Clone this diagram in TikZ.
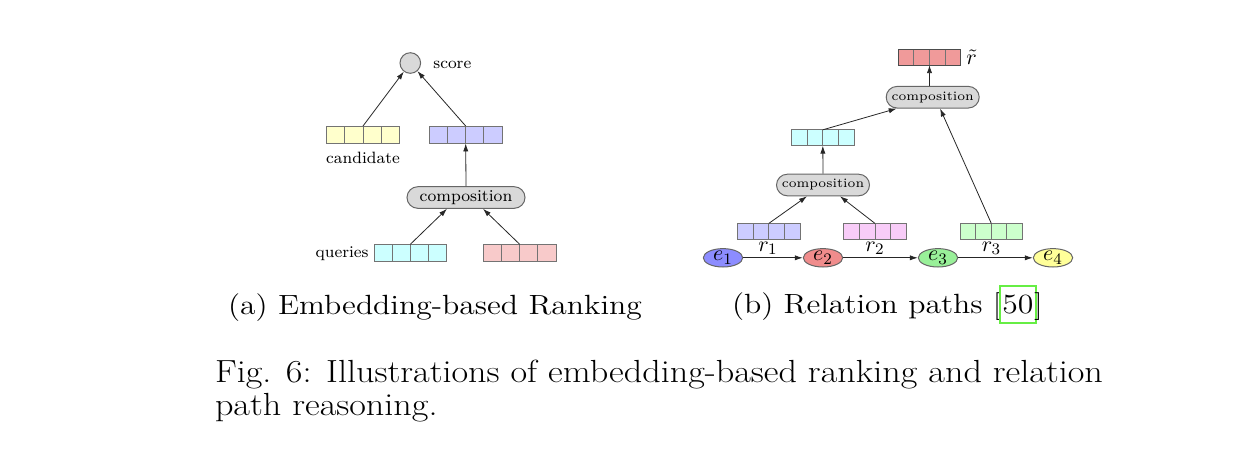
\documentclass[tikz,border=0pt]{standalone}
\usetikzlibrary{arrows.meta,calc,shapes.geometric}
\definecolor{cyel}{HTML}{FFFFCC}
\definecolor{cblue}{HTML}{CCCCFF}
\definecolor{ccyan}{HTML}{CCFFFF}
\definecolor{cpinkL}{HTML}{F8CACA}
\definecolor{crt}{HTML}{F09A9A}
\definecolor{cpinkB}{HTML}{F8CCF8}
\definecolor{cgreenC}{HTML}{CCFFCC}
\definecolor{ceA}{HTML}{8C8CFF}
\definecolor{ceB}{HTML}{F08C8C}
\definecolor{ceC}{HTML}{99F099}
\definecolor{ceD}{HTML}{FFFF99}
\definecolor{compgray}{HTML}{D9D9D9}
\definecolor{refgreen}{HTML}{66EE44}
\newcommand\mycapfont{\fontsize{16}{18}\selectfont}
\newcommand\mysubfont{\fontsize{13.9}{16}\selectfont}
\tikzset{
 arr/.style={-{Latex[length=4pt,width=2.6pt]}, line width=0.4pt, black!85},
 vec/.style={draw=black!55, line width=0.5pt, inner sep=0, outer sep=0,
   path picture={\foreach \i in {1,2,3}{\draw[black!55, line width=0.5pt]
     ($(path picture bounding box.south west)!\i/4!(path picture bounding box.south east)$) --
     ($(path picture bounding box.north west)!\i/4!(path picture bounding box.north east)$);}}},
 lvec/.style={vec, minimum width=36.3pt, minimum height=8.7pt},
 rvec/.style={vec, minimum width=31.2pt, minimum height=7.9pt},
 compL/.style={draw=black!60, fill=compgray, line width=0.5pt, rounded corners=5.4pt, minimum width=59pt, minimum height=10.8pt, inner sep=0, font=\fontsize{8.3}{10}\selectfont},
 compR/.style={compL, minimum width=46.5pt, font=\fontsize{6.4}{8}\selectfont},
 ent/.style={ellipse, draw=black!60, line width=0.5pt, minimum width=19.7pt, minimum height=9.2pt, inner sep=0, font=\fontsize{11}{12}\selectfont},
 lbl/.style={inner sep=0, font=\fontsize{8.2}{10}\selectfont},
 rlab/.style={inner sep=0, font=\fontsize{11}{12}\selectfont},
 captxt/.style={anchor=base west, inner sep=0, outer sep=0},
}
\begin{document}
\begin{tikzpicture}[x=0.5pt,y=-0.5pt]
\useasboundingbox (0,0) rectangle (1238,468);
% ---------- (a) ----------
\node[circle, draw=black!60, fill=compgray, line width=0.5pt, minimum size=10.3pt, inner sep=0] (score) at (410.3,63) {};
\node[lbl, anchor=west] (lscore) at (433,64.5) {score};
\node[lvec, fill=cyel] (cand) at (363,134.7) {};
\node[lbl] (lcand) at (363,158.3) {candidate};
\node[lvec, fill=cblue] (bvec) at (465.7,134.7) {};
\node[compL] (comp) at (466,197.5) {composition};
\node[lvec, fill=ccyan] (qvec) at (410.3,253) {};
\node[lbl, anchor=east] (lq) at (369,254) {queries};
\node[lvec, fill=cpinkL] (pvec) at (519.7,253) {};
\draw[arr] (cand.north) -- (score);
\draw[arr] (bvec.north) -- (score);
\draw[arr] (comp.north) -- (bvec.south);
\draw[arr] (qvec.north) -- ([xshift=-9.5pt]comp.south);
\draw[arr] (pvec.north) -- ([xshift=8.5pt]comp.south);
% ---------- (b) ----------
\node[rvec, fill=crt, draw=black!70] (rt) at (929.5,57.2) {};
\node[rlab, anchor=west] (lrt) at (966,57) {$\tilde{r}$};
\node[compR] (comptop) at (932.7,97.2) {composition};
\node[rvec, fill=ccyan] (cy) at (822.8,137.7) {};
\node[compR] (compbot) at (823,185) {composition};
\node[rvec, fill=cblue] (ra) at (768.8,231.3) {};
\node[rvec, fill=cpinkB] (rb) at (875,231.3) {};
\node[rvec, fill=cgreenC] (rc) at (991.3,231.3) {};
\node[rlab] (lra) at (768,248.3) {$r_1$};
\node[rlab] (lrb) at (875,248.3) {$r_2$};
\node[rlab] (lrc) at (991.5,248.3) {$r_3$};
\node[ent, fill=ceA] (ea) at (723,257.8) {$e_1$};
\node[ent, fill=ceB] (eb) at (823,257.8) {$e_2$};
\node[ent, fill=ceC] (ec) at (938,257.8) {$e_3$};
\node[ent, fill=ceD] (ed) at (1053,257.8) {$e_4$};
\draw[arr] (ea) -- (eb);
\draw[arr] (eb) -- (ec);
\draw[arr] (ec) -- (ed);
\draw[arr] (ra.north) -- ([xshift=-8pt]compbot.south);
\draw[arr] (rb.north) -- ([xshift=8.5pt]compbot.south);
\draw[arr] (compbot.north) -- (cy.south);
\draw[arr] (cy.north) -- ([xshift=-18pt]comptop.south);
\draw[arr] (rc.north) -- ([xshift=3.7pt]comptop.south);
\draw[arr] (comptop.north -| rt.south) -- (rt.south);
% ---------- captions ----------
\node[captxt, font=\mysubfont] (capa) at (228,314) {\scalebox{1.14}[1]{(a) Embedding-based Ranking}};
\node[captxt, font=\mysubfont] (capb) at (732,313.5) {\scalebox{1.14}[1]{(b) Relation paths [}};
\node[anchor=base west, font=\mysubfont, draw=refgreen, line width=1pt, inner xsep=1.2pt, inner ysep=4.7pt, outer sep=0] (cite) at ([xshift=-0.8pt]capb.base east) {\scalebox{1.14}[1]{50}};
\node[captxt, font=\mysubfont] (capc) at ([xshift=-0.8pt]cite.base east) {\scalebox{1.14}[1]{]}};
\node[captxt, font=\mycapfont] (figa) at (215,382) {\scalebox{1.13}[1]{Fig. 6: Illustrations of embedding-based ranking and relation}};
\node[captxt, font=\mycapfont] (figb) at (215,415) {\scalebox{1.13}[1]{path reasoning.}};
\end{tikzpicture}
\end{document}
